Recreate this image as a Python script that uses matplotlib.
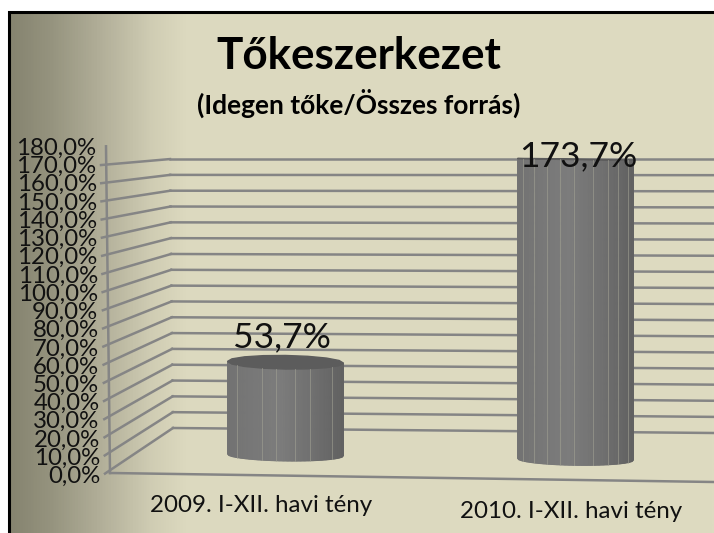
import numpy as np
import matplotlib
matplotlib.use("Agg")
import matplotlib.pyplot as plt
from matplotlib.collections import PolyCollection
from matplotlib.colors import LinearSegmentedColormap
from matplotlib.transforms import Affine2D

categories = ["2009. I-XII. havi tény", "2010. I-XII. havi tény"]
values = [53.7, 173.7]
value_labels = ["53,7%", "173,7%"]
tick_values = list(range(0, 190, 10))
tick_labels = [f"{v},0%" for v in tick_values]
title = "Tőkeszerkezet"
subtitle = "(Idegen tőke/Összes forrás)"

W, H = 714, 533
UI = ["Lato", "DejaVu Sans"]
plt.rcParams["font.family"] = UI
fig = plt.figure(figsize=(W / 100, H / 100), dpi=100, facecolor="white")


def rect(x0, ytop, x1, ybot):
    return [x0 / W, 1 - ybot / H, (x1 - x0) / W, (ybot - ytop) / H]


# Page background and border
bg = fig.add_axes([0, 0, 1, 1], zorder=0)
cmap = LinearSegmentedColormap.from_list(
    "page", [(0, "#85836f"), (0.06, "#96947f"), (0.13, "#b2af99"), (0.2, "#cfccb3"), (0.25, "#dcd9bf"), (1, "#dedbc1")]
)
bg.imshow(np.linspace(0, 1, 512)[None, :], cmap=cmap, extent=(9, W, H, 12), aspect="auto", vmin=0, vmax=1)
bg.set_xlim(0, W)
bg.set_ylim(H, 0)
bg.axis("off")
bg.plot([9, 9, W], [H, 12, 12], color="black", lw=2.2, solid_joinstyle="miter")

GRID = "#858585"
SLOPE = 9.0 / 604.0  # downward drift of the floor, px per px


def tilt(x0):
    """Display-space shear so horizontals drift downward to the right."""
    return Affine2D.from_values(1, -SLOPE, 0, 1, 0, SLOPE * x0)


# Back wall: value scale with gridlines that flatten toward the top
wall = fig.add_axes(rect(173, 428 - 1.582 * 170, W, 428), zorder=1)
wall.set_xlim(0, 1)
wall.set_ylim(0, 170)
wall.axis("off")
for v in tick_values[:-1]:
    drop = 5 / 1.582 * (1 - v / 170)
    wall.plot([-3 * v / 170 / 541, 1], [v, v - drop], color=GRID, lw=1.8, clip_on=False)

# Front-left value scale with tick labels
front = fig.add_axes(rect(110, 473 - 1.815 * 180, 111, 473), zorder=2)
front.set_xlim(0, 1)
front.set_ylim(0, 180)
front.patch.set_visible(False)
for s in front.spines.values():
    s.set_visible(False)
front.set_xticks([])
front.set_yticks(tick_values)
front.set_yticklabels(tick_labels, fontsize=17.3, color="#111111")
front.tick_params(axis="y", length=0, pad=7)
for v, lab in zip(tick_values, front.get_yticklabels()):
    lab.set_transform(lab.get_transform() + Affine2D().translate(-4 * v / 180, -1.5 * (1 - v / 180)))

# Side-wall connectors: link the front axis scale to the back wall scale
conn = fig.add_axes([0, 0, 1, 1], zorder=1)
conn.axis("off")
conn.set_xlim(0, W)
conn.set_ylim(H, 0)
for v in tick_values[:-1]:
    yf = 473 - 1.815 * v
    yb = 428 - 1.582 * v
    xf = 110 - 4 * v / 170
    xb = 173 - 3 * v / 170
    conn.plot([xf - 5, xb], [yf + 0.6, yb], color=GRID, lw=1.8)
conn.plot([110, 106], [473, 473 - 1.815 * 180], color=GRID, lw=1.8)
conn.plot([110, W], [473, 482], color=GRID, lw=1.8)

# Cylinder bars
bars = fig.add_axes(rect(0, 455 - 1.727 * 180, W, 455), zorder=3)
bars.axis("off")
bars.patch.set_visible(False)
bars.set_ylim(0, 180)
half = 58.0
bars.set_xlim(-285.5 / 290, (W - 285.5) / 290)
bar_tf = bars.transData + tilt(285.5)
facets = [
    [-1, -.83, -.41, -.17, .17, .43, .81, 1],
    [-1, -.9, -.72, -.5, -.26, -.03, .31, .56, .73, .9, 1],
]
top_e = [6.8 / 1.727, 0.3 / 1.727]
bot_e = 6.0 / 1.727
hw = half / 290
shade = LinearSegmentedColormap.from_list(
    "bar", [(0, "#727272"), (0.2, "#777777"), (0.45, "#7c7c7c"), (0.75, "#6f6f6f"), (1, "#616161")]
)
label_dy = [2.5 / 1.727, -13.0 / 1.727]
label_dx = [-4.0 / 290, 3.0 / 290]
for i, v in enumerate(values):
    f = np.linspace(-1, 1, 90)
    yoff = lambda u, e: e * np.sqrt(np.clip(1 - u ** 2, 0, 1))
    strips = []
    cols = []
    for a, b in zip(f[:-1], f[1:]):
        strips.append([
            (i + a * hw, -yoff(a, bot_e)), (i + b * hw, -yoff(b, bot_e)),
            (i + b * hw, v - yoff(b, top_e[i])), (i + a * hw, v - yoff(a, top_e[i])),
        ])
        cols.append(shade((a + b) / 4 + 0.5))
    bars.add_collection(PolyCollection(strips, facecolors=cols, edgecolors=cols, linewidths=0.7,
                                       transform=bar_tf, clip_on=False))
    for u in facets[i][1:-1]:
        bars.plot([i + u * hw] * 2, [-yoff(u, bot_e), v - yoff(u, top_e[i])], color="#a5a596",
                  lw=0.7, alpha=0.55, transform=bar_tf, clip_on=False)
    th = np.linspace(0, 2 * np.pi, 17)
    bars.fill(i + hw * np.cos(th), v + top_e[i] * np.sin(th), color="#5c5c5c", transform=bar_tf, clip_on=False)
    bars.text(i + label_dx[i], v + top_e[i] + label_dy[i], value_labels[i],
              ha="center", va="bottom", fontsize=25.5, color="#111111",
              transform=bar_tf, clip_on=False)

# Category labels
bg.text(261.5, 506, categories[0], ha="center", va="center", fontsize=17.4, color="#111111")
bg.text(571.5, 512, categories[1], ha="center", va="center", fontsize=17.4, color="#111111")

# Titles
bg.text(359, 56, title, ha="center", va="center", fontsize=31.7, fontweight="bold", color="black")
bg.text(359, 103, subtitle, ha="center", va="center", fontsize=19, fontweight="bold", color="black")

fig.savefig("out.png", dpi=100)
